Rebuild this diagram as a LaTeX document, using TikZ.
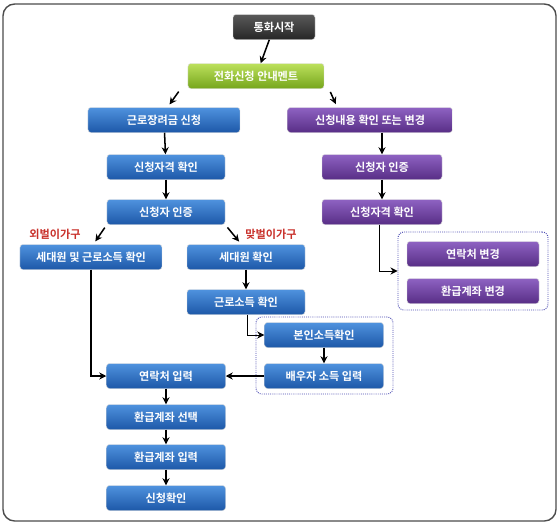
\documentclass[tikz,border=0pt]{standalone}
\usepackage{fontspec}
\setmainfont{Noto Sans CJK KR}[BoldFont={* Bold}]
\usetikzlibrary{arrows.meta}
\definecolor{kblue1}{HTML}{4F92DE}
\definecolor{kblue2}{HTML}{1D58A8}
\definecolor{kpurp1}{HTML}{8E62C2}
\definecolor{kpurp2}{HTML}{582E86}
\definecolor{kgreen1}{HTML}{BCE05C}
\definecolor{kgreen2}{HTML}{76A61C}
\definecolor{kred}{HTML}{C8302A}
\tikzset{
    stepnode/.style={rounded corners=2.5pt, minimum height=0.75cm, text=white,
        font=\fontsize{9.5}{11}\selectfont\bfseries, draw=white!70!gray, line width=0.4pt},
    bluenode/.style={stepnode, top color=kblue1, bottom color=kblue2},
    purplenode/.style={stepnode, top color=kpurp1, bottom color=kpurp2},
    groupbox/.style={draw=blue!40!gray, densely dotted, rounded corners=5pt, thick},
    flow/.style={->, line width=1.3pt},
    thinflow/.style={->, line width=0.8pt}
}
\begin{document}
\begin{tikzpicture}[x=0.03cm, y=-0.03cm, >={Stealth[length=6pt,width=6pt]}]
    \useasboundingbox (0,0) rectangle (560,526);
    % Outer frame
    \draw[rounded corners=0.35cm, line width=1.2pt, black!70] (3,4) rectangle (556,521);

    % Top of the flow
    \node[stepnode, top color=black!65, bottom color=black!85, minimum width=2.46cm] (start) at (274,27) {통화시작};
    \node[stepnode, top color=kgreen1, bottom color=kgreen2, minimum width=4.08cm] (notice) at (256,76) {전화신청 안내멘트};

    % Left branch: new application
    \node[bluenode, minimum width=4.56cm] (apply) at (164,120) {근로장려금 신청};
    \node[bluenode, minimum width=3.54cm] (quali) at (166,167) {신청자격 확인};
    \node[bluenode, minimum width=3.54cm] (auth) at (166,212) {신청자 인증};

    % Household types
    \node[font=\fontsize{9.5}{11}\selectfont\bfseries, text=kred] (single) at (55,234) {외벌이가구};
    \node[font=\fontsize{9.5}{11}\selectfont\bfseries, text=kred] (dual) at (271,234) {맞벌이가구};
    \node[bluenode, minimum width=4.26cm] (sedae) at (91,257) {세대원 및 근로소득 확인};
    \node[bluenode, minimum width=3.54cm] (member) at (246,257) {세대원 확인};
    \node[bluenode, minimum width=3.54cm] (income) at (246,302) {근로소득 확인};

    % Income group (dotted)
    \node[groupbox, minimum width=4.11cm, minimum height=2.31cm] (incomebox) at (324.5,355.5) {};
    \node[bluenode, minimum width=3.57cm] (own) at (324,335) {본인소득확인};
    \node[bluenode, minimum width=3.57cm] (spouse) at (324,376) {배우자 소득 입력};

    % Last steps
    \node[bluenode, minimum width=3.57cm] (contact) at (166,376) {연락처 입력};
    \node[bluenode, minimum width=3.57cm] (accsel) at (166,417) {환급계좌 선택};
    \node[bluenode, minimum width=3.57cm] (accin) at (166,457) {환급계좌 입력};
    \node[bluenode, minimum width=3.57cm] (done) at (166,498) {신청확인};

    % Right branch: check or change
    \node[purplenode, minimum width=4.95cm] (change) at (370,120) {신청내용 확인 또는 변경};
    \node[purplenode, minimum width=3.6cm] (rauth) at (382,167) {신청자 인증};
    \node[purplenode, minimum width=3.6cm] (rquali) at (382,212) {신청자격 확인};
    \node[groupbox, minimum width=4.5cm, minimum height=2.34cm] (changebox) at (473,271) {};
    \node[purplenode, minimum width=3.96cm] (phone) at (473,254) {연락처 변경};
    \node[purplenode, minimum width=3.96cm] (account) at (473,291) {환급계좌 변경};

    % Connectors
    \draw[flow] (start) -- (notice);
    \draw[flow, shorten <=3pt, shorten >=3pt] ([xshift=-6pt]notice.south west) -- ([xshift=3pt]apply.north);
    \draw[flow, shorten <=3pt, shorten >=3pt] ([xshift=4pt]notice.south east) -- ([xshift=-28pt]change.north);
    \draw[flow] (apply) -- (quali);
    \draw[flow] (quali) -- (auth);
    \draw[flow, shorten <=3pt, shorten >=3pt] (auth.south west) -- ([xshift=2pt]sedae.north);
    \draw[flow, shorten <=3pt, shorten >=3pt] (auth.south east) -- ([xshift=-4pt]member.north);
    \draw[flow] (member) -- (income);
    \draw[thinflow] ([xshift=1pt]income.south) |- (own.west);
    \draw[flow] (own) -- (spouse);
    \draw[flow] (spouse) -- (contact);
    \draw[flow] (sedae.south) |- (contact.west);
    \draw[flow] (contact) -- (accsel);
    \draw[flow] (accsel) -- (accin);
    \draw[flow] (accin) -- (done);
    \draw[flow] (change.south -| rauth.north) -- (rauth);
    \draw[flow] (rauth) -- (rquali);
    \draw[thinflow] ([xshift=-2pt]rquali.south) |- (changebox.west);
\end{tikzpicture}
\end{document}
